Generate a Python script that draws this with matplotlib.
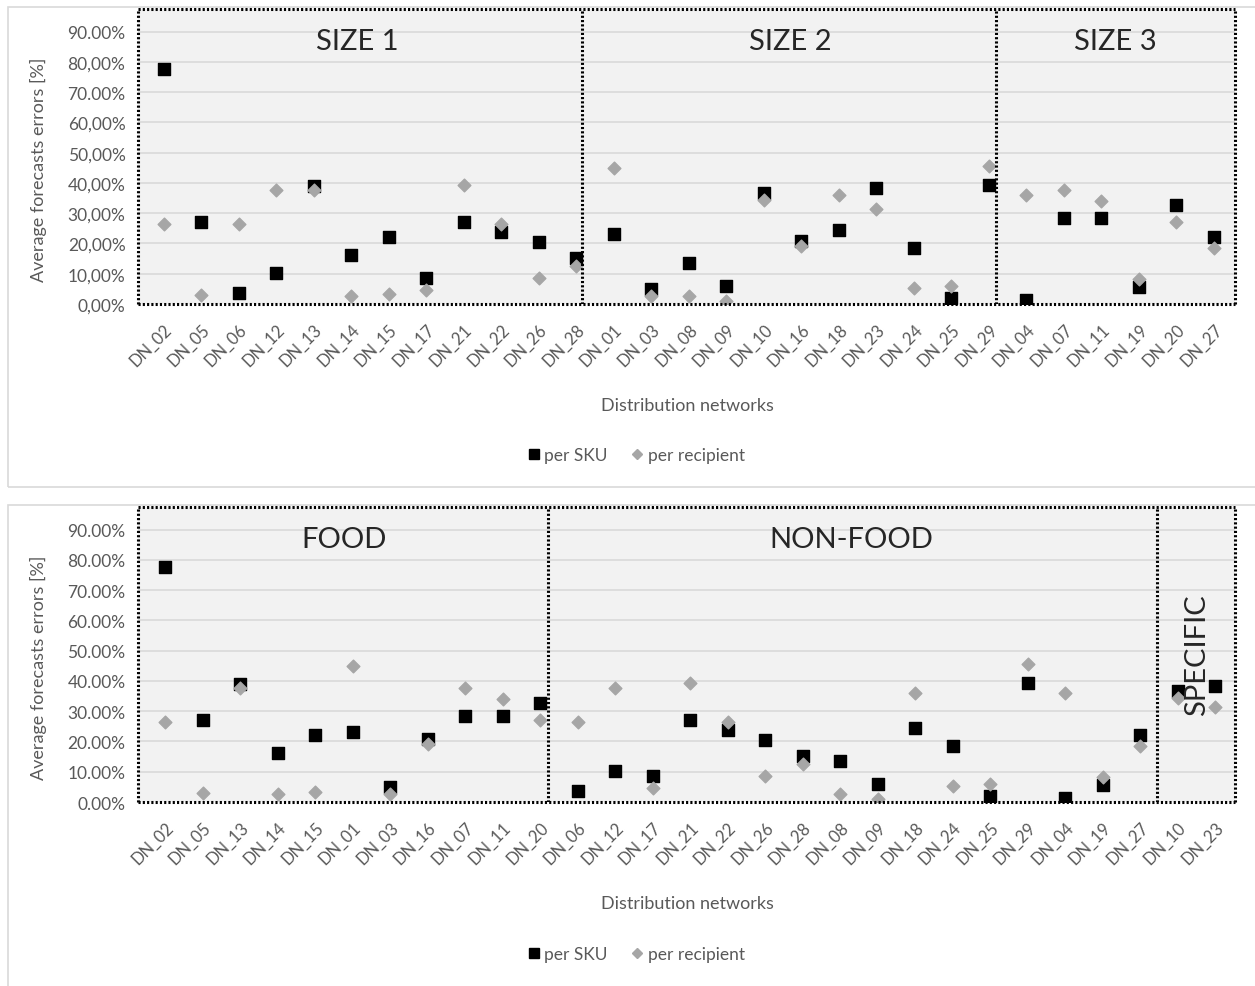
import matplotlib
matplotlib.use('Agg')
import matplotlib.pyplot as plt
from matplotlib.lines import Line2D
from matplotlib.patches import Rectangle

plt.rcParams['font.family'] = ['Lato', 'DejaVu Sans']

# data (in %)
top_labels = ['DN_02', 'DN_05', 'DN_06', 'DN_12', 'DN_13', 'DN_14', 'DN_15', 'DN_17', 'DN_21', 'DN_22',
              'DN_26', 'DN_28', 'DN_01', 'DN_03', 'DN_08', 'DN_09', 'DN_10', 'DN_16', 'DN_18', 'DN_23',
              'DN_24', 'DN_25', 'DN_29', 'DN_04', 'DN_07', 'DN_11', 'DN_19', 'DN_20', 'DN_27']
per_sku = [77.8, 27.2, 3.6, 10.2, 39.1, 16.2, 22.2, 8.5, 27.2, 23.8,
           20.6, 15.3, 23.3, 4.9, 13.5, 5.8, 36.7, 20.8, 24.4, 38.3,
           18.6, 2.0, 39.2, 1.4, 28.3, 28.3, 5.7, 32.6, 22.2]
per_recipient = [26.6, 3.0, 26.6, 37.6, 37.6, 2.7, 3.3, 4.7, 39.2, 26.3,
                 8.5, 12.6, 44.9, 2.7, 2.7, 0.9, 34.5, 19.2, 35.9, 31.5,
                 5.3, 6.0, 45.5, 35.9, 37.6, 34.0, 8.2, 27.2, 18.4]

bottom_labels = ['DN_02', 'DN_05', 'DN_13', 'DN_14', 'DN_15', 'DN_01', 'DN_03', 'DN_16', 'DN_07', 'DN_11',
                 'DN_20', 'DN_06', 'DN_12', 'DN_17', 'DN_21', 'DN_22', 'DN_26', 'DN_28', 'DN_08', 'DN_09',
                 'DN_18', 'DN_24', 'DN_25', 'DN_29', 'DN_04', 'DN_19', 'DN_27', 'DN_10', 'DN_23']

top_groups = ['SIZE 1', 'SIZE 2', 'SIZE 3']
bottom_groups = ['FOOD', 'NON-FOOD', 'SPECIFIC']

top_yticklabels = ['0,00%', '10,00%', '20,00%', '30,00%', '40,00%', '50,00%', '60,00%', '70.00%', '80,00%', '90.00%']
bottom_yticklabels = ['0.00%', '10.00%', '20.00%', '30.00%', '40.00%', '50.00%', '60.00%', '70.00%', '80.00%', '90.00%']
yticks = [0, 10, 20, 30, 40, 50, 60, 70, 80, 90]

sku_lookup = dict(zip(top_labels, per_sku))
rec_lookup = dict(zip(top_labels, per_recipient))
bottom_sku = [sku_lookup[k] for k in bottom_labels]
bottom_rec = [rec_lookup[k] for k in bottom_labels]

W, H = 1255, 987
fig = plt.figure(figsize=(W / 100, H / 100), dpi=100)

tick_col = '#595959'
dot = (0, (0.7, 0.7))

# chart frames
fig.patches.append(Rectangle((8 / W, 1 - 488 / H), 1.2, 480 / H, transform=fig.transFigure,
                             fill=False, edgecolor='#d9d9d9', lw=1.2))
fig.patches.append(Rectangle((8 / W, -0.1), 1.2, 1 - 506 / H + 0.1, transform=fig.transFigure,
                             fill=False, edgecolor='#d9d9d9', lw=1.2))


def draw_panel(ax, labels, sku, rec, yticklabels, xlim, dividers, groups, group_pos):
    x = list(range(len(labels)))
    ax.set_facecolor('#f2f2f2')
    for v in yticks[1:]:
        ax.axhline(v, color='#d9d9d9', lw=1.2, zorder=1)
    ax.scatter(x, sku, marker='s', s=70, color='black', zorder=3, label='per SKU')
    ax.scatter(x, rec, marker='D', s=42, color='#a6a6a6', zorder=4, label='per recipient')
    for d in dividers:
        ax.axvline(d, color='black', lw=2.2, linestyle=dot, zorder=5)
    for sp in ax.spines.values():
        sp.set_color('black')
        sp.set_linewidth(2.2)
        sp.set_linestyle(dot)
        sp.set_capstyle('butt')
        sp.set_zorder(6)
    ax.set_xlim(*xlim)
    ax.set_ylim(0, 97.5)
    ax.set_yticks(yticks)
    ax.set_yticklabels(yticklabels, fontsize=12.5, color=tick_col)
    ax.set_xticks(x)
    ax.set_xticklabels(labels, rotation=45, ha='right', va='top', rotation_mode='anchor',
                       fontsize=12, color=tick_col)
    ax.tick_params(length=0, pad=9)
    ax.tick_params(axis='x', pad=12)
    ax.set_ylabel('Average forecasts errors [%]', fontsize=13, color=tick_col)
    ax.yaxis.set_label_coords(-0.083, 0.457)
    ax.set_xlabel('Distribution networks', fontsize=13, color=tick_col)
    ax.xaxis.set_label_coords(0.501, -0.315)
    for g, (gx, gy, rot) in zip(groups, group_pos):
        ax.text(gx, gy, g, transform=ax.get_xaxis_transform(), ha='center', va='center',
                fontsize=21, color='#262626', rotation=rot, zorder=7)


ax1 = fig.add_axes([138 / W, 1 - 305 / H, 1097 / W, 295 / H])
draw_panel(ax1, top_labels, per_sku, per_recipient, top_yticklabels, (-0.69, 28.56),
           [11.15, 22.19], top_groups, [(5.17, 0.89, 0), (16.7, 0.89, 0), (25.36, 0.89, 0)])

ax2 = fig.add_axes([138 / W, 1 - 803 / H, 1097 / W, 295 / H])
draw_panel(ax2, bottom_labels, bottom_sku, bottom_rec, bottom_yticklabels, (-0.72, 28.53),
           [10.21, 26.45], bottom_groups, [(4.77, 0.89, 0), (18.3, 0.89, 0), (27.52, 0.50, 90)])

handles = [Line2D([], [], marker='s', color='black', linestyle='none', markersize=7),
           Line2D([], [], marker='D', color='#a6a6a6', linestyle='none', markersize=5)]
names = ['per SKU', 'per recipient']
for yc in (456, 955):
    fig.legend(handles, names, loc='center', bbox_to_anchor=(635 / W, 1 - yc / H), ncol=2,
               frameon=False, fontsize=12.5, labelcolor=tick_col, handletextpad=0.1,
               columnspacing=1.2, handlelength=1.0)

fig.savefig('out.png', dpi=100)
